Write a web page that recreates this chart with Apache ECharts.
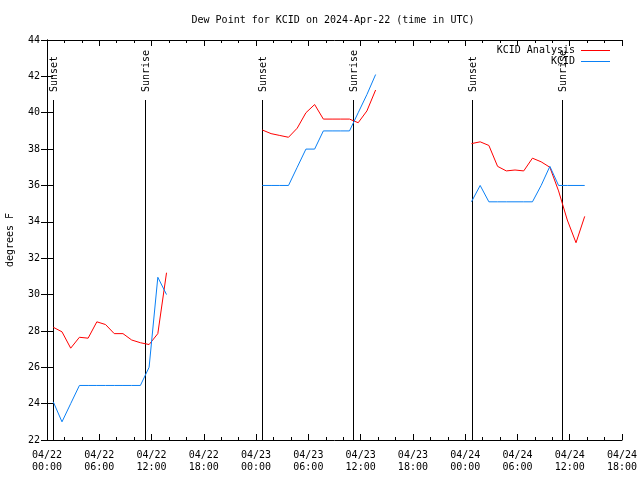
<!DOCTYPE html>
<html>
<head>
<meta charset="utf-8">
<script src="https://cdn.jsdelivr.net/npm/echarts@6/dist/echarts.min.js"></script>
<style>html,body{margin:0;padding:0;background:#fff;}#c{width:640px;height:480px;}</style>
</head>
<body>
<div id="c"></div>
<script>
// Hours since 2024-04-22 00:00 UTC
const hours1 = [0.72, 1.72, 2.72, 3.72, 4.72, 5.72, 6.72, 7.72, 8.72, 9.72, 10.72, 11.72, 12.72, 13.72];
const hours2 = [24.72, 25.72, 26.72, 27.72, 28.72, 29.72, 30.72, 31.72, 32.72, 33.72, 34.72, 35.72, 36.72, 37.72];
const hours3 = [48.72, 49.72, 50.72, 51.72, 52.72, 53.72, 54.72, 55.72, 56.72, 57.72, 58.72, 59.72, 60.72, 61.72];

const analysis1 = [28.2, 27.95, 27.05, 27.65, 27.6, 28.5, 28.35, 27.85, 27.85, 27.5, 27.35, 27.25, 27.85, 31.2];
const analysis2 = [39.05, 38.85, 38.75, 38.65, 39.15, 40.0, 40.45, 39.65, 39.65, 39.65, 39.65, 39.45, 40.1, 41.25];
const analysis3 = [38.3, 38.4, 38.2, 37.05, 36.8, 36.85, 36.8, 37.5, 37.3, 37.0, 35.7, 34.1, 32.85, 34.3];

const kcid1 = [24.1, 23.0, 24.0, 25.0, 25.0, 25.0, 25.0, 25.0, 25.0, 25.0, 25.0, 26.0, 30.95, 30.0];
const kcid2 = [36, 36, 36, 36, 37, 38, 38, 39, 39, 39, 39, 40, 41, 42.1];
const kcid3 = [35.1, 36.0, 35.1, 35.1, 35.1, 35.1, 35.1, 35.1, 36.0, 37.05, 36.0, 36.0, 36.0, 36.0];

const eventNames = ['Sunset', 'Sunrise', 'Sunset', 'Sunrise', 'Sunset', 'Sunrise'];
const eventHours = [0.72, 11.25, 24.71, 35.16, 48.82, 59.15];

const xTickLabels = ['04/22\n00:00', '04/22\n06:00', '04/22\n12:00', '04/22\n18:00',
                     '04/23\n00:00', '04/23\n06:00', '04/23\n12:00', '04/23\n18:00',
                     '04/24\n00:00', '04/24\n06:00', '04/24\n12:00', '04/24\n18:00'];

const FONT = 'DejaVu Sans Mono';
const RED = '#ff0000';
const BLUE = '#0a80f5';
const Y_MIN = 22, Y_MAX = 44;
const EVENT_LINE_TOP = 40.7;

function pairs(h, v) { return h.map((x, i) => [x, v[i]]); }

function lineSeries(name, color, h, v) {
  return {
    name: name, type: 'line', data: pairs(h, v), symbol: 'none',
    lineStyle: { color: color, width: 1 }, itemStyle: { color: color },
    animation: false, silent: true, z: 3
  };
}

const chart = echarts.init(document.getElementById('c'));
const common = { fontFamily: FONT, fontSize: 10, color: '#000' };

chart.setOption({
  backgroundColor: '#fff',
  animation: false,
  title: {
    text: 'Dew Point for KCID on 2024-Apr-22 (time in UTC)',
    left: 328, top: 10, textAlign: 'center',
    textStyle: { fontFamily: FONT, fontSize: 10, fontWeight: 'normal', color: '#000' }
  },
  grid: { left: 47, right: 18, top: 40, bottom: 40, outerBoundsMode: 'none', containLabel: false },
  legend: {
    data: ['KCID Analysis', 'KCID'],
    orient: 'vertical', right: 30, top: 45, align: 'right', padding: 0,
    icon: 'rect', itemWidth: 29, itemHeight: 1, itemGap: 0,
    selectedMode: false,
    textStyle: { fontFamily: FONT, fontSize: 10, color: '#000', width: 80, align: 'right', lineHeight: 11, padding: [0, 1, 0, 0] }
  },
  xAxis: [{
    type: 'value', min: 0, max: 66, interval: 6,
    axisLine: { show: true, lineStyle: { color: '#000', width: 1 } },
    axisTick: { show: true, inside: true, length: 6, lineStyle: { color: '#000' } },
    minorTick: { show: true, splitNumber: 3, length: 3, lineStyle: { color: '#000' } },
    splitLine: { show: false },
    axisLabel: Object.assign({}, common, {
      margin: 9, lineHeight: 12,
      formatter: function (v) { return xTickLabels[Math.round(v / 6)] || ''; }
    })
  }, {
    type: 'value', min: 0, max: 66, interval: 6, position: 'top',
    axisLine: { show: true, lineStyle: { color: '#000', width: 1 } },
    axisTick: { show: true, inside: true, length: 6, lineStyle: { color: '#000' } },
    minorTick: { show: true, splitNumber: 3, length: 3, lineStyle: { color: '#000' } },
    splitLine: { show: false }, axisLabel: { show: false }
  }],
  yAxis: [{
    type: 'value', min: Y_MIN, max: Y_MAX, interval: 2,
    name: 'degrees F', nameLocation: 'middle', nameGap: 32,
    nameTextStyle: { fontFamily: FONT, fontSize: 10, color: '#000' },
    axisLine: { show: true, lineStyle: { color: '#000', width: 1 } },
    axisTick: { show: true, inside: true, length: 6, lineStyle: { color: '#000' } },
    splitLine: { show: false },
    axisLabel: Object.assign({}, common, { margin: 7 })
  }, {
    type: 'value', min: Y_MIN, max: Y_MAX, interval: 2, position: 'right',
    axisLine: { show: true, lineStyle: { color: '#000', width: 1 } },
    axisTick: { show: true, inside: true, length: 6, lineStyle: { color: '#000' } },
    splitLine: { show: false }, axisLabel: { show: false }
  }],
  series: [
    {
      name: 'events', type: 'custom', silent: true, z: 2,
      data: eventHours.map((h, i) => [h, i]),
      renderItem: function (params, api) {
        const h = api.value(0);
        const idx = api.value(1);
        const p0 = api.coord([h, Y_MIN]);
        const p1 = api.coord([h, EVENT_LINE_TOP]);
        const x = Math.round(p0[0]) + 0.5;
        return {
          type: 'group',
          children: [
            { type: 'line', shape: { x1: x, y1: p0[1], x2: x, y2: p1[1] },
              style: { stroke: '#000', lineWidth: 1 } },
            { type: 'text', x: x + 1, y: p1[1] - 8, rotation: Math.PI / 2,
              style: { text: eventNames[idx], font: '10px "' + FONT + '"', fill: '#000',
                       align: 'left', verticalAlign: 'middle' } }
          ]
        };
      }
    },
    lineSeries('KCID Analysis', RED, hours1, analysis1),
    lineSeries('KCID Analysis', RED, hours2, analysis2),
    lineSeries('KCID Analysis', RED, hours3, analysis3),
    lineSeries('KCID', BLUE, hours1, kcid1),
    lineSeries('KCID', BLUE, hours2, kcid2),
    lineSeries('KCID', BLUE, hours3, kcid3)
  ]
});
</script>
</body>
</html>
